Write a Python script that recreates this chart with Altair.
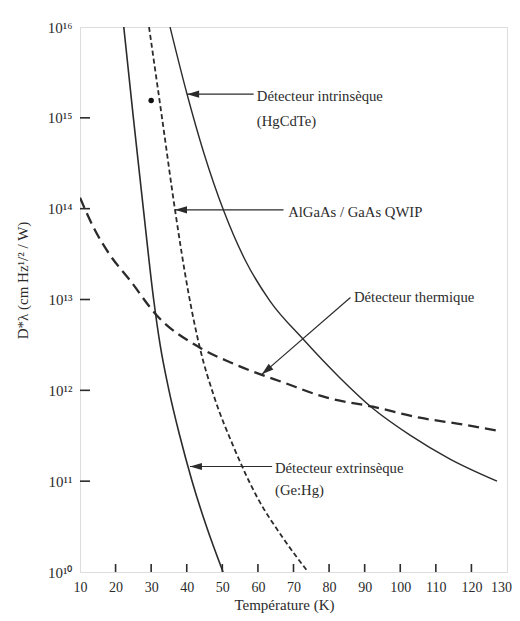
import altair as alt
import pandas as pd

FONT = "Liberation Serif"
INK = "#2b2b2b"

# ---- data ----
ext_T = [22.3, 25.0, 27.8, 30.7, 32.5, 35.0, 38.0, 41.5, 45.5, 50.2]
ext_D = [1e16, 1e15, 1e14, 1e13, 3.2e12, 1e12, 3.2e11, 1e11, 3.2e10, 1e10]

qwip_T = [29.4, 33.05, 36.7, 40.35, 43.7, 47.7, 53.3, 59.75, 67.05, 74.1]
qwip_D = [1e16, 1e15, 9.7e13, 1.26e13, 2.92e12, 8.5e11, 2.32e11, 6.7e10, 2.37e10, 1e10]

intr_T = [35.3, 40.07, 44.85, 50.47, 56.37, 63.4, 72.67, 83.07, 92.34, 102.74, 113.98, 127.2]
intr_D = [1e16, 1.83e15, 4.05e14, 9.3e13, 2.74e13, 9.6e12, 3.67e12, 1.37e12,
          6.3e11, 3.21e11, 1.75e11, 1.0e11]

therm_T = [10.0, 14.0, 18.4, 24.1, 31.4, 43.7, 52.0, 61.1, 66.2, 79.4, 92.3, 105.5, 117.6, 127.2]
therm_D = [1.32e14, 6.0e13, 3.1e13, 1.62e13, 6.8e12, 2.95e12, 2.05e12, 1.48e12, 1.26e12,
           8.3e11, 6.6e11, 5.0e11, 4.2e11, 3.6e11]

dot_T = [30.0]
dot_D = [1.55e15]

# annotations: text lines (left edge position)
ann_text = ["Détecteur intrinsèque", "(HgCdTe)", "AlGaAs / GaAs QWIP",
            "Détecteur thermique", "Détecteur extrinsèque", "(Ge:Hg)"]
ann_T = [59.7, 59.7, 68.5, 87.0, 64.8, 64.8]
ann_D = [1.7e15, 8.9e14, 8.9e13, 1.05e13, 1.35e11, 7.8e10]

# arrows: from (text side) to tip (curve side)
arr_T0 = [58.8, 67.2, 86.0, 64.0]
arr_D0 = [1.82e15, 9.7e13, 1.05e13, 1.45e11]
arr_T1 = [40.1, 36.7, 61.1, 40.9]
arr_D1 = [1.82e15, 9.7e13, 1.5e12, 1.45e11]
arr_angle = [0, 0, 320, 0]

x_ticks = [10, 20, 30, 40, 50, 60, 70, 80, 90, 100, 110, 120, 130]
x_inner_ticks = [20, 30, 40, 50, 60, 70, 80, 90, 100, 110, 120]
y_ticks = [1e10, 1e11, 1e12, 1e13, 1e14, 1e15, 1e16]
y_inner_ticks = [1e11, 1e12, 1e13, 1e14, 1e15]
y_tick_labels = ["10¹⁰", "10¹¹", "10¹²", "10¹³", "10¹⁴", "10¹⁵", "10¹⁶"]
y_exponents = [10, 11, 12, 13, 14, 15, 16]

# ---- scales / axes ----
W, H = 427, 545
label_expr = " : ".join(
    f"round(log(datum.value)/LN10) == {e} ? '{l}'" for e, l in zip(y_exponents, y_tick_labels)
) + " : ''"

xscale = alt.Scale(domain=[10, 130], nice=False, zero=False)
yscale = alt.Scale(type="log", domain=[1e10, 1e16], nice=False)

xaxis = alt.Axis(values=x_ticks, title="Température (K)", grid=False, domain=False,
                 ticks=False, labelPadding=8, labelFont=FONT, labelFontSize=14,
                 labelColor=INK, titleFont=FONT, titleFontSize=15, titleFontWeight="normal",
                 titleColor=INK, titleX=204, titleY=37, titleBaseline="alphabetic",
                 titleAnchor="start", titleAlign="center", labelFlush=False,
                 labelOffset={"condition": {"test": "datum.value == 130", "value": -6},
                              "value": 0})
yaxis = alt.Axis(values=y_ticks, labelExpr=label_expr, title="D*λ (cm Hz¹/² / W)",
                 grid=False, domain=False, ticks=False, labelPadding=8, labelFont=FONT,
                 labelFontSize=15, labelColor=INK, titleFont=FONT, titleFontSize=15,
                 titleFontWeight="normal", titleColor=INK, titleX=-58, titleY=253,
                 titleAngle=270, titleAlign="center", titleBaseline="middle",
                 labelFlush=False)

X = lambda f: alt.X(f, type="quantitative", scale=xscale, axis=xaxis)
Y = lambda f: alt.Y(f, type="quantitative", scale=yscale, axis=yaxis)


def curve(T, D, dash, width):
    df = pd.DataFrame({"T": T, "D": D, "i": range(len(T))})
    kw = dict(interpolate="monotone", color=INK, strokeWidth=width, clip=True)
    if dash:
        kw["strokeDash"] = dash
    return alt.Chart(df).mark_line(**kw).encode(x=X("T"), y=Y("D"), order="i:Q")


lines = [
    curve(ext_T, ext_D, None, 1.6),
    curve(qwip_T, qwip_D, [5, 3], 1.8),
    curve(intr_T, intr_D, None, 1.4),
    curve(therm_T, therm_D, [11, 6], 2.3),
]

dot = alt.Chart(pd.DataFrame({"T": dot_T, "D": dot_D})).mark_circle(
    size=30, color="#111", opacity=1).encode(x=X("T"), y=Y("D"))

arr_df = pd.DataFrame({"T0": arr_T0, "D0": arr_D0, "T1": arr_T1, "D1": arr_D1,
                       "ang": arr_angle})
arrow_lines = alt.Chart(arr_df).mark_rule(color=INK, strokeWidth=1.2).encode(
    x=X("T0"), y=Y("D0"), x2="T1", y2="D1")
arrow_heads = alt.Chart(arr_df).mark_point(
    shape="M 0 0 L 2 -0.6 L 2 0.6 Z", size=144, filled=True, color=INK,
    opacity=1, strokeWidth=0).encode(
    x=X("T1"), y=Y("D1"), angle=alt.Angle("ang:Q", scale=None))

texts = alt.Chart(pd.DataFrame({"T": ann_T, "D": ann_D, "t": ann_text})).mark_text(
    align="left", baseline="middle", font=FONT, fontSize=14.7, color=INK).encode(
    x=X("T"), y=Y("D"), text="t:N")

yt = alt.Chart(pd.DataFrame({"D": y_inner_ticks})).mark_rule(
    color=INK, strokeWidth=1.6).encode(y=Y("D"), x=alt.value(0), x2=alt.value(10))
xt = alt.Chart(pd.DataFrame({"T": x_inner_ticks})).mark_rule(
    color=INK, strokeWidth=1.6).encode(x=X("T"), y=alt.value(H), y2=alt.value(H - 8))

chart = alt.layer(*lines, dot, arrow_lines, arrow_heads, texts, yt, xt).properties(
    width=W, height=H,
    autosize=alt.AutoSizeParams(type="none"),
    padding={"left": 72, "top": 19, "right": 5, "bottom": 41},
).configure_view(stroke=INK, strokeWidth=2).configure(background="white")

chart.save("out.html", embed_options={"renderer": "svg", "actions": False})
